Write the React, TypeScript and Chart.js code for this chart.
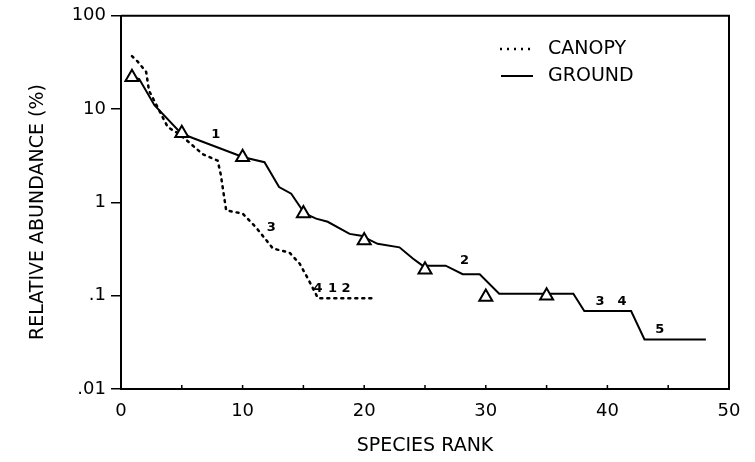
import React, { useEffect, useRef } from 'react';
import { Chart, registerables } from 'chart.js';

Chart.register(...registerables);

// ---- data ----
const groundRank = [1, 1.5, 2.75, 4.95, 5.9, 10.07, 11.8, 13.0, 14.0, 15.1, 16.05, 17, 18.8, 19.75, 21.1, 22.9, 24, 24.8, 26.7, 28.1, 29.5, 31.1, 37.2, 38.1, 41.95, 43.05, 48.1];
const groundValue = [22, 21, 11, 5.5, 4.9, 3.05, 2.7, 1.46, 1.24, 0.76, 0.67, 0.62, 0.46, 0.44, 0.36, 0.33, 0.25, 0.21, 0.21, 0.17, 0.17, 0.105, 0.105, 0.0686, 0.0686, 0.034, 0.034];

const canopyRank = [0.9, 1.4, 2.07, 2.3, 3, 3.85, 4.8, 5.6, 6.7, 7.95, 8.2, 8.65, 10, 11.1, 12.5, 13.85, 14.7, 15.4, 16.2, 20.7];
const canopyValue = [37, 32, 25, 15.8, 10.5, 6.4, 5.4, 4.4, 3.3, 2.8, 2.0, 0.82, 0.76, 0.54, 0.32, 0.29, 0.22, 0.15, 0.094, 0.094];

const markerRank = [0.9, 5, 10, 15, 20, 25, 30, 35];
const markerValue = [22, 5.5, 3.05, 0.76, 0.39, 0.19, 0.097, 0.1];

const groundNoteText = ['1', '2', '3', '4', '5'];
const groundNoteRank = [7.8, 28.25, 39.4, 41.2, 44.3];
const groundNoteValue = [5.35, 0.24, 0.086, 0.086, 0.043];

const canopyNoteText = ['3', '4', '1', '2'];
const canopyNoteRank = [12.35, 16.2, 17.4, 18.5];
const canopyNoteValue = [0.535, 0.119, 0.119, 0.119];

const yTickValues = [0.01, 0.1, 1, 10, 100];
const yTickLabels = ['.01', '.1', '1', '10', '100'];
const xMinorTicks = [5, 10, 15, 20, 25, 30, 35, 40, 45];

const seriesNames = ['CANOPY', 'GROUND'];
const xTitle = 'SPECIES RANK';
const yTitle = 'RELATIVE ABUNDANCE (%)';

const FONT = '"DejaVu Sans", "Liberation Sans", Arial, sans-serif';

const toPoints = (xs: number[], ys: number[]) => xs.map((x, i) => ({ x, y: ys[i] }));

const decorPlugin = {
  id: 'decor',
  afterDraw(chart: any) {
    const { ctx, chartArea, scales } = chart;
    const xs = scales.x;
    const ys = scales.y;
    ctx.save();
    // top and right frame
    ctx.strokeStyle = '#000';
    ctx.lineWidth = 2;
    ctx.beginPath();
    ctx.moveTo(chartArea.left, chartArea.top);
    ctx.lineTo(chartArea.right, chartArea.top);
    ctx.lineTo(chartArea.right, chartArea.bottom);
    ctx.stroke();
    // inward minor ticks on x axis
    ctx.lineWidth = 1.5;
    ctx.beginPath();
    xMinorTicks.forEach((v) => {
      const px = xs.getPixelForValue(v);
      ctx.moveTo(px, chartArea.bottom);
      ctx.lineTo(px, chartArea.bottom - 4);
    });
    ctx.stroke();
    // small digit notes
    ctx.fillStyle = '#000';
    ctx.font = `bold 13px ${FONT}`;
    ctx.textAlign = 'center';
    ctx.textBaseline = 'middle';
    groundNoteText.forEach((t, i) => {
      ctx.fillText(t, xs.getPixelForValue(groundNoteRank[i]), ys.getPixelForValue(groundNoteValue[i]));
    });
    canopyNoteText.forEach((t, i) => {
      ctx.fillText(t, xs.getPixelForValue(canopyNoteRank[i]), ys.getPixelForValue(canopyNoteValue[i]));
    });
    // legend
    ctx.lineWidth = 2.5;
    ctx.setLineDash([2, 5]);
    ctx.beginPath();
    ctx.moveTo(500, 49);
    ctx.lineTo(532, 49);
    ctx.stroke();
    ctx.setLineDash([]);
    ctx.lineWidth = 2;
    ctx.beginPath();
    ctx.moveTo(501, 76);
    ctx.lineTo(533, 76);
    ctx.stroke();
    ctx.font = `19px ${FONT}`;
    ctx.textAlign = 'left';
    ctx.fillText(seriesNames[0], 548, 49);
    ctx.fillText(seriesNames[1], 548, 76);
    // y axis title
    ctx.translate(38, 212);
    ctx.rotate(-Math.PI / 2);
    ctx.textAlign = 'center';
    ctx.fillText(yTitle, 0, 0);
    ctx.restore();
  },
};

export default function App() {
  const ref = useRef<HTMLCanvasElement | null>(null);

  useEffect(() => {
    if (!ref.current) return;
    const chart = new Chart(ref.current, {
      type: 'line',
      data: {
        datasets: [
          {
            label: 'markers',
            data: toPoints(markerRank, markerValue),
            showLine: false,
            pointStyle: 'triangle',
            pointRadius: 7.5,
            pointBackgroundColor: '#fff',
            pointBorderColor: '#000',
            pointBorderWidth: 2,
          },
          {
            label: seriesNames[1],
            data: toPoints(groundRank, groundValue),
            borderColor: '#000',
            borderWidth: 2,
            pointRadius: 0,
            tension: 0,
            fill: false,
          },
          {
            label: seriesNames[0],
            data: toPoints(canopyRank, canopyValue),
            borderColor: '#000',
            borderWidth: 2.5,
            borderDash: [2, 5],
            borderCapStyle: 'round',
            pointRadius: 0,
            tension: 0,
            fill: false,
          },
        ],
      } as any,
      options: {
        animation: false,
        responsive: false,
        devicePixelRatio: 1,
        layout: { padding: { top: 15, right: 26, bottom: 0, left: 0 } },
        plugins: { legend: { display: false }, tooltip: { enabled: false } },
        scales: {
          x: {
            type: 'linear',
            min: 0,
            max: 50,
            afterFit: (s: any) => { s.height = 73; },
            ticks: { stepSize: 10, color: '#000', font: { family: FONT, size: 18 }, padding: 12, maxRotation: 0 },
            grid: { display: true, drawOnChartArea: false, drawTicks: false, color: '#000' },
            border: { display: true, color: '#000', width: 2 },
            title: { display: true, text: xTitle, color: '#000', font: { family: FONT, size: 19 }, padding: { top: 0, bottom: 5 } },
          },
          y: {
            type: 'logarithmic',
            min: 0.01,
            max: 100,
            afterFit: (s: any) => { s.width = 121; },
            afterBuildTicks: (s: any) => { s.ticks = yTickValues.map((v) => ({ value: v })); },
            ticks: {
              color: '#000',
              font: { family: FONT, size: 18 },
              padding: 5,
              autoSkip: false,
              callback: (v: any) => {
                const i = yTickValues.indexOf(Number(v));
                return i >= 0 ? yTickLabels[i] : '';
              },
            },
            grid: { display: true, drawOnChartArea: false, drawTicks: true, tickLength: 10, color: '#000', lineWidth: 1.5 },
            border: { display: true, color: '#000', width: 2 },
            title: { display: false },
          },
        },
      } as any,
      plugins: [decorPlugin],
    });
    return () => chart.destroy();
  }, []);

  return (
    <div style={{ position: 'absolute', left: 0, top: 0, width: 755, height: 462, background: '#fff' }}>
      <canvas ref={ref} width={755} height={462} style={{ display: 'block' }} />
    </div>
  );
}
